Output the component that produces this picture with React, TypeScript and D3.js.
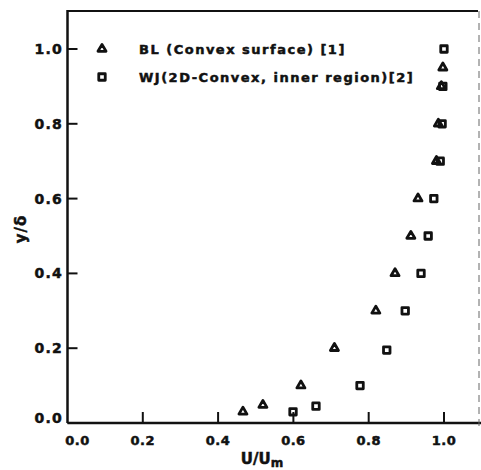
import { useEffect, useRef } from "react"
import * as d3 from "d3"

// BL (Convex surface) [1] - triangles
const blU = [0.466, 0.519, 0.62, 0.709, 0.819, 0.87, 0.912, 0.931, 0.98, 0.985, 0.993, 0.997]
const blY = [0.03, 0.048, 0.1, 0.2, 0.3, 0.4, 0.5, 0.6, 0.7, 0.8, 0.9, 0.95]
// WJ (2D-Convex, inner region) [2] - squares
const wjU = [0.599, 0.66, 0.777, 0.848, 0.897, 0.939, 0.958, 0.973, 0.99, 0.995, 0.997, 1.0]
const wjY = [0.03, 0.045, 0.1, 0.195, 0.3, 0.4, 0.5, 0.6, 0.7, 0.8, 0.9, 1.0]

const xTicks = [0, 0.2, 0.4, 0.6, 0.8, 1.0]
const yTicks = [0, 0.2, 0.4, 0.6, 0.8, 1.0]
const legendLabels = ["BL (Convex surface) [1]", "WJ(2D-Convex, inner region)[2]"]

const W = 481
const H = 470
const FONT = "'DejaVu Sans', sans-serif"

const App = () => {
  const ref = useRef<SVGSVGElement>(null)

  useEffect(() => {
    const svg = d3.select(ref.current)
    svg.selectAll("*").remove()

    const left = 67.5
    const bottom = 423
    const top = 11
    const right = 479

    const x = d3.scaleLinear().domain([0, 1.093]).range([left, right])
    const y = d3.scaleLinear().domain([0, 1.1016]).range([bottom, top])

    const ink = "#111"

    // heavier text, like the scanned original
    const bold = (sel: any, size: number, spacing: number) =>
      sel
        .style("font-family", FONT)
        .style("font-weight", "bold")
        .style("font-size", `${size}px`)
        .style("letter-spacing", `${spacing}px`)
        .attr("fill", ink)
        .attr("stroke", ink)
        .attr("stroke-width", 0.5)

    // frame
    svg.append("line").attr("x1", left).attr("x2", left).attr("y1", top - 1).attr("y2", bottom)
      .attr("stroke", ink).attr("stroke-width", 2.5)
    svg.append("line").attr("x1", left).attr("x2", W).attr("y1", bottom).attr("y2", bottom)
      .attr("stroke", ink).attr("stroke-width", 2.5)
    svg.append("line").attr("x1", left).attr("x2", right - 1).attr("y1", top).attr("y2", top)
      .attr("stroke", ink).attr("stroke-width", 2)
    svg.append("line").attr("x1", right).attr("x2", right).attr("y1", top).attr("y2", bottom + 8)
      .attr("stroke", "#666").attr("stroke-width", 1).attr("stroke-dasharray", "7 5")

    // y ticks (inward)
    svg.selectAll(".ytick").data(yTicks).enter().append("line")
      .attr("x1", left).attr("x2", left + 10)
      .attr("y1", (d) => y(d)).attr("y2", (d) => y(d))
      .attr("stroke", ink).attr("stroke-width", 2)
    bold(
      svg.selectAll(".ylab").data(yTicks).enter().append("text")
        .attr("x", 63)
        .attr("y", (d) => y(d) + 5 - (d === 0 ? 5 : 0))
        .attr("text-anchor", "end"),
      14, 1.2
    ).text((d: number) => d.toFixed(1))

    // x ticks (inward)
    svg.selectAll(".xtick").data(xTicks.filter((d) => d > 0)).enter().append("line")
      .attr("x1", (d) => x(d)).attr("x2", (d) => x(d))
      .attr("y1", bottom).attr("y2", bottom - 11)
      .attr("stroke", ink).attr("stroke-width", 2)
    bold(
      svg.selectAll(".xlab").data(xTicks).enter().append("text")
        .attr("x", (d) => x(d) + (d === 0 ? 10 : 0))
        .attr("y", 445)
        .attr("text-anchor", "middle"),
      13, 0.5
    ).text((d: number) => d.toFixed(1))

    // axis titles
    const xt = bold(
      svg.append("text").attr("x", 262).attr("y", 464).attr("text-anchor", "middle"),
      15, 0
    )
    xt.append("tspan").text("U/U")
    xt.append("tspan").attr("dy", 3).style("font-size", "12px").text("m")

    bold(
      svg.append("text")
        .attr("transform", "translate(26,229) rotate(-90)")
        .attr("text-anchor", "middle"),
      15, 1
    ).text("y/δ")

    const tri = d3.symbol(d3.symbolTriangle, 28)
    const sq = d3.symbol(d3.symbolSquare, 42)

    const drawTri = (cx: number, cy: number) =>
      svg.append("path").attr("d", tri()).attr("transform", `translate(${cx},${cy})`)
        .attr("fill", "none").attr("stroke", ink).attr("stroke-width", 2.8)
        .attr("stroke-linejoin", "round")
    const drawSq = (cx: number, cy: number) =>
      svg.append("path").attr("d", sq()).attr("transform", `translate(${cx},${cy})`)
        .attr("fill", "none").attr("stroke", ink).attr("stroke-width", 2.8)
        .attr("stroke-linejoin", "round")

    blU.forEach((u, i) => drawTri(x(u), y(blY[i])))
    wjU.forEach((u, i) => drawSq(x(u), y(wjY[i])))

    // legend
    const legX = 102
    const legY = [49, 77]
    drawTri(legX, legY[0])
    drawSq(legX, legY[1])
    bold(
      svg.selectAll(".leg").data(legendLabels).enter().append("text")
        .attr("x", 139)
        .attr("y", (_d: string, i: number) => legY[i] + 4.5),
      13, 1.5
    ).text((d: string) => d)
  }, [])

  return (
    <svg
      ref={ref}
      width={W}
      height={H}
      style={{ position: "absolute", left: 0, top: 0, background: "#fff" }}
    />
  )
}

export default App
